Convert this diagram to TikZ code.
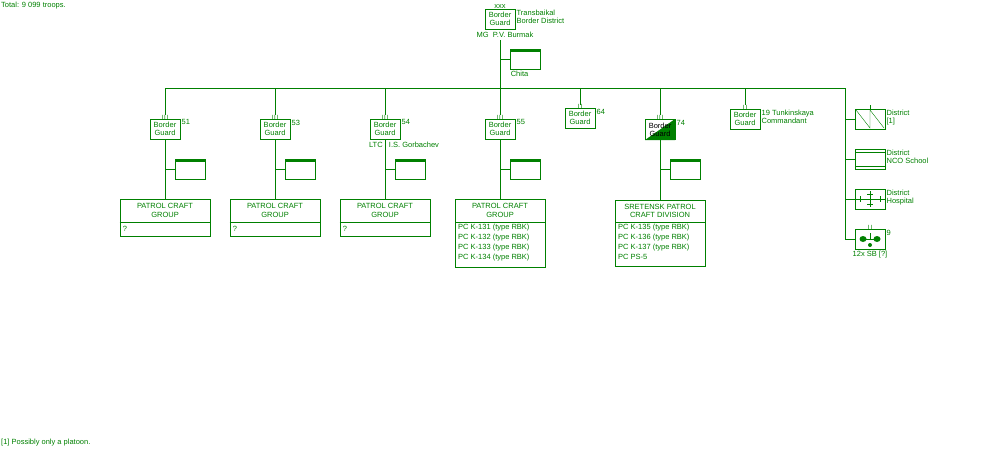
\documentclass[tikz,border=0pt]{standalone}
\usepackage{fontspec}
\setmainfont{Liberation Sans}
\usetikzlibrary{positioning,calc}
\definecolor{obgreen}{RGB}{0,128,0}
\tikzset{
    unit/.style={draw=obgreen,thick,minimum width=30pt,minimum height=20pt,inner sep=0pt,align=center,font=\fontsize{7.5}{8}\selectfont},
    hq/.style={draw=obgreen,thick,minimum width=30pt,minimum height=20pt,inner sep=0pt,path picture={\fill[obgreen] (path picture bounding box.north west) rectangle ([yshift=-3pt]path picture bounding box.north east);}},
    craft/.style={draw=obgreen,thick,minimum width=90pt,anchor=north,inner sep=0pt},
    lbl/.style={font=\fontsize{7.5}{8.5}\selectfont,text=obgreen,inner sep=1pt,align=left},
    link/.style={obgreen,thick}
}
\begin{document}
\begin{tikzpicture}[x=1pt,y=-1pt,every node/.style={text=obgreen}]
    \useasboundingbox (0,0) rectangle (1000,450);
    \node[lbl,anchor=west] (total) at (0,6) {Total: 9 099 troops.};
    \node[lbl,anchor=west] (note) at (0,443) {[1] Possibly only a platoon.};

    % District headquarters
    \node[unit] (tbd) at (500,19) {Border\\Guard};
    \node[lbl,above=-1pt of tbd] {xxx};
    \node[lbl,anchor=north west] at (tbd.north east) {Transbaikal\\Border District};
    \node[lbl] at (505,35) {MG\ \ P.V. Burmak};
    \node[hq] (chita) at (525,59) {};
    \node[lbl,anchor=north west] at (chita.south west) {Chita};
    \coordinate (tbdbus) at (500,88);
    \draw[link] (500,40) -- (tbdbus);
    \draw[link] (500,59) -- (chita.west);
    \draw[link] (165,88) -- (845,88);

    % Detachments with patrol craft
    \foreach \x/\n in {165/51,275/53,385/54,500/55} {
        \node[unit] (bg\n) at (\x,129) {Border\\Guard};
        \node[lbl,anchor=north west] at (bg\n.north east) {\n};
        \node[lbl,above=-2pt of bg\n,font=\fontsize{6}{6}\selectfont] {I\,I\,I};
        \draw[link] (\x,88) -- (\x,115);
        \node[hq] (hq\n) at (\x+25,169) {};
        \draw[link] (\x,169) -- (hq\n.west);
    }
    \node[lbl] at (404,145) {LTC\ \ \ I.S. Gorbachev};
    \foreach \x/\n in {165/51,275/53,385/54} {
        \node[craft,minimum height=37pt] (pc\n) at (\x,199) {};
        \draw[link] (pc\n.west|-0,222) -- (pc\n.east|-0,222);
        \node[lbl,align=center] at (\x,210.5) {PATROL CRAFT\\GROUP};
        \node[lbl] at (\x-40,229) {?};
        \draw[link] (bg\n.south) -- (pc\n.north);
    }
    \node[craft,minimum height=68pt] (pc55) at (500,199) {};
    \draw[link] (455,222) -- (545,222);
    \node[lbl,align=center] at (500,210.5) {PATROL CRAFT\\GROUP};
    \node[lbl,anchor=north west,font=\fontsize{7.5}{10}\selectfont] at (457,223) {PC K-131 (type RBK)\\PC K-132 (type RBK)\\PC K-133 (type RBK)\\PC K-134 (type RBK)};
    \draw[link] (bg55.south) -- (pc55.north);

    % Smaller detachments
    \node[unit] (bg64) at (580,118) {Border\\Guard};
    \node[lbl,anchor=north west] at (bg64.north east) {64};
    \node[lbl,above=-2pt of bg64,font=\fontsize{6}{6}\selectfont] {I\,I};
    \draw[link] (580,88) -- (580,105);
    \node[unit] (bg19) at (745,119) {Border\\Guard};
    \node[lbl,anchor=north west] at (bg19.north east) {19 Tunkinskaya\\Commandant};
    \node[lbl,above=-2pt of bg19,font=\fontsize{6}{6}\selectfont] {I\,I};
    \draw[link] (745,88) -- (745,105);

    % Sretensk
    \fill[obgreen] (645,140) -- (675,119) -- (675,140) -- cycle;
    \node[unit,text=black] (bg74) at (660,129.5) {Border\\Guard};
    \node[lbl,anchor=north west] at (bg74.north east) {74};
    \node[lbl,above=-2pt of bg74,font=\fontsize{6}{6}\selectfont] {I\,I\,I};
    \draw[link] (660,88) -- (660,115);
    \node[hq] (hq74) at (685,169) {};
    \draw[link] (660,169) -- (hq74.west);
    \node[craft,minimum height=66pt] (pc74) at (660,200) {};
    \draw[link] (615,222) -- (705,222);
    \node[lbl,align=center] at (660,211) {SRETENSK PATROL\\CRAFT DIVISION};
    \node[lbl,anchor=north west,font=\fontsize{7.5}{10}\selectfont] at (617,223) {PC K-135 (type RBK)\\PC K-136 (type RBK)\\PC K-137 (type RBK)\\PC PS-5};
    \draw[link] (bg74.south) -- (pc74.north);

    % District units
    \draw[link] (845,88) -- (845,239);
    \foreach \y/\n in {119/sig,159/nco,199/hosp,239/sb} {
        \node[unit] (\n) at (870,\y) {};
        \draw[link] (845,\y) -- (\n.west);
    }
    \draw[obgreen] (856,110) -- (870,128) -- (870,110) -- (884,128);
    \draw[obgreen] (870,109) -- (870,105);
    \node[lbl,anchor=north west] at (sig.north east) {District\\{[1]}};
    \draw[obgreen] (855,152) -- (885,152) (855,166) -- (885,166);
    \node[lbl,anchor=north west] at (nco.north east) {District\\NCO School};
    \draw[obgreen] (855,199) -- (885,199) (860,196) -- (860,202) (880,196) -- (880,202)
        (870,191) -- (870,207) (867,194) -- (873,194) (867,204) -- (873,204);
    \node[lbl,anchor=north west] at (hosp.north east) {District\\Hospital};
    \fill[obgreen] (863,239) ellipse (3.5pt and 3pt) (877,239) ellipse (3.5pt and 3pt) (870,245) circle (2pt);
    \draw[obgreen] (860,239) -- (880,239) (870,233) -- (870,239);
    \node[lbl,above=-2pt of sb,font=\fontsize{6}{6}\selectfont] {I\,I};
    \node[lbl,anchor=north west] at (sb.north east) {9};
    \node[lbl] at (870,255) {12x SB [?]};
\end{tikzpicture}
\end{document}
